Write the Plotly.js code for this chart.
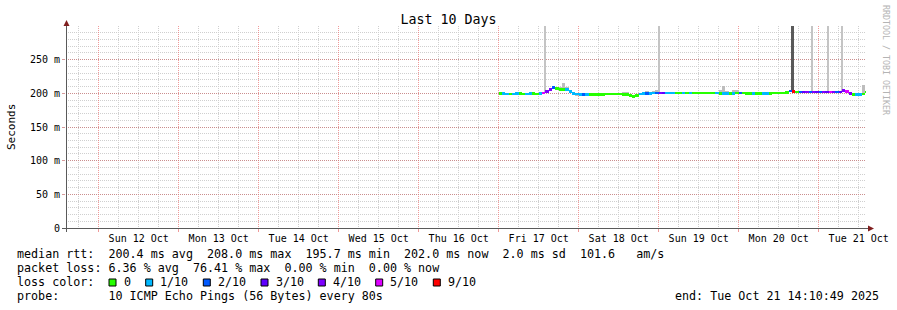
<!DOCTYPE html>
<html><head><meta charset="utf-8">
<script src="https://cdn.plot.ly/plotly-3.0.1.min.js"></script>
<style>html,body{margin:0;padding:0;background:#fff}</style>
</head><body><div id="chart" style="width:897px;height:310px"></div>
<script>
// ---------- data (hourly steps starting Fri 17 Oct 2025 00:00) ----------
const seriesStart = '2025-10-17 00:00:00';
const median = [
  199.5,199.5,199,199,199,199.5,199.5,199,199,199.5,199.5,199,199.5,
  200.5,202.5,205,208,206.5,206,206,205.5,203,199.5,199,
  198.5,198.5,198.5,198,198,198,198.5,198.5,199,199,199,199,199,198.5,198,196.5,195.7,197,199,200,200,200,200.5,200.5,
  200.5,200.5,200.5,200.5,200.5,200.5,200.5,200.5,200.5,200.5,200.5,200.5,200.5,200.5,200.5,200.5,200.5,200.5,200,200,200,200,200,200.5,
  200.5,200.5,200,200,200,200,200,200,200,200,200.5,200.5,200.5,200.5,201,203.5,203,202,202,202,202,202,202,202,
  202,202,202,202,202,202,202,204,202.5,200,198.5,198,198,199,202
];
const lossOf10 = [
  0,1,1,0,1,1,0,0,1,1,0,0,1,
  5,4,4,2,0,0,0,1,1,1,1,
  1,2,1,0,0,0,0,0,0,0,0,0,0,0,0,0,0,0,1,1,2,1,1,2,
  4,3,1,1,1,0,0,1,0,1,0,0,0,0,0,0,0,1,0,1,1,0,1,0,
  2,0,0,0,1,0,0,1,1,0,0,0,0,0,0,2,9,0,2,3,4,2,4,3,
  2,4,3,5,4,2,3,4,5,4,0,1,1,0,0
];
const smokeLo = [
  198,198,197.5,197.5,197.5,198,198,197.5,197.5,198,198,197.5,198,
  199,201,203.5,206.5,205,204.5,204.5,204,201.5,197,196,
  197,197,197,196.5,196.5,196.5,197,197,197.5,197.5,197.5,197.5,197.5,197,196.5,195,194.2,195.5,197.5,198.5,198.5,198.5,199,199,
  199,199,199,199,199,199,199,199,199,199,199,199,199,199,199,199,199,199,198.5,198.5,198.5,198.5,198.5,199,
  199,199,198.5,198.5,198.5,198.5,198.5,198.5,198.5,198.5,199,199,199,199,199.5,202,201.5,200.5,200.5,200.5,200.5,200.5,200.5,200.5,
  200.5,200.5,200.5,200.5,200.5,200.5,200.5,202.5,201,198.5,197,196.5,196.5,197.5,200.5
];
const smokeHi = [
  201,201,200.5,200.5,200.5,201,201,200.5,200.5,201,201,200.5,201,
  202,204,207,209,208,210,216,209,205,201,200.5,
  200,200,200,199.5,199.5,199.5,200,200,200.5,200.5,200.5,200.5,200.5,201.5,201.5,198,197.5,198.5,200.5,201.5,203,201.5,204,205,
  202,202,202,202,202,202,202,202,202,202,202,202,202,202,202,202,202,202,205,211.5,204,201.5,205,205,
  202,202,201.5,201.5,201.5,201.5,201.5,201.5,201.5,201.5,202,202,202,202,202.5,205,204.5,203.5,203.5,203.5,203.5,203.5,203.5,203.5,
  203.5,203.5,203.5,203.5,203.5,203.5,203.5,206,204,201.5,200,199.5,199.5,213,203.5
];
// smoke spikes reaching beyond the top of the graph
const spikeTimes = ['2025-10-17 13:48','2025-10-19 00:00','2025-10-20 16:03','2025-10-20 21:54','2025-10-21 02:42','2025-10-21 07:00'];
const spikeFrom  = [202, 200.5, 203, 202, 202, 204];
const spikeTo    = [300, 300, 300, 300, 300, 300];
const spikePings = [1, 1, 4, 1, 1, 1];

const lossSteps  = [0, 1, 2, 3, 4, 5, 9];
const lossLabels = ['0', '1/10', '2/10', '3/10', '4/10', '5/10', '9/10'];
const yTickVals  = [0, 50, 100, 150, 200, 250];
const yTickText  = ['0', '50 m', '100 m', '150 m', '200 m', '250 m'];
const rttLine    = 'median rtt:  200.4 ms avg  208.0 ms max  195.7 ms min  202.0 ms now  2.0 ms sd  101.6   am/s';
const lossLine   = 'packet loss: 6.36 % avg  76.41 % max  0.00 % min  0.00 % now';
const probeLine  = 'probe:       10 ICMP Echo Pings (56 Bytes) every 80s';
const endLine    = 'end: Tue Oct 21 14:10:49 2025';

// ---------- styles ----------
const lossColors = ['#26ff00', '#00b8ff', '#0059ff', '#5e00ff', '#7e00ff', '#dd00ff', '#ff0000'];
const HOUR = 3600000;
const MONO = 'DejaVu Sans Mono';
function lossColor(l) { let c = lossColors[0]; lossSteps.forEach((s, k) => { if (l >= s) c = lossColors[k]; }); return c; }
const t0 = new Date(seriesStart.replace(' ', 'T') + 'Z').getTime();
const times = median.map((_, i) => new Date(t0 + (i + 0.5) * HOUR).toISOString().slice(0, 19).replace('T', ' '));

const lineHalf = 2.2; // half thickness of the median stroke in ms

const traces = [
  { type: 'bar', x: times, base: smokeLo, y: smokeHi.map((h, i) => h - smokeLo[i]), width: HOUR,
    marker: { color: '#bdbdbd', line: { width: 0 } }, hoverinfo: 'skip' },
  { type: 'bar', x: spikeTimes, base: spikeFrom, y: spikeTo.map((t, i) => t - spikeFrom[i]),
    width: spikePings.map(p => p > 1 ? 0.8 * HOUR : 0.55 * HOUR),
    marker: { color: spikePings.map(p => p > 1 ? '#5a5a5a' : '#c4c4c4'), line: { width: 0 } }, hoverinfo: 'skip' },
  { type: 'bar', x: times, base: median.map(m => m - lineHalf), y: median.map(() => 2 * lineHalf), width: HOUR,
    marker: { color: lossOf10.map(lossColor), line: { width: 0 } }, hoverinfo: 'skip' }
];

const L = 66, T = 26, W = 800, H = 202;
const px = x => (x - L) / W, py = y => (T + H - y) / H;
const txt = (x, y, text, opts) => Object.assign({ xref: 'paper', yref: 'paper', x: px(x), y: py(y), text, showarrow: false,
  xanchor: 'left', yanchor: 'middle', font: { family: MONO, size: 11.7, color: '#000' } }, opts || {});

const annotations = [
  txt(14.7, 254, rttLine),
  txt(14.7, 268, lossLine),
  txt(14.7, 282, 'loss color:'),
  txt(14.7, 296, probeLine),
  txt(881, 296, endLine, { xanchor: 'right' }),
  txt(11, 127, 'Seconds', { xanchor: 'center', textangle: -90, font: { family: MONO, size: 11, color: '#000' } }),
  txt(886, 60, 'RRDTOOL / TOBI OETIKER', { xanchor: 'center', textangle: 90, font: { family: MONO, size: 8.3, color: '#b4b4b4' } })
];
const boxX = [109, 145.7, 203.3, 261, 318.3, 375.7, 433.3];
const shapes = [];
lossLabels.forEach((lab, k) => {
  annotations.push(txt(boxX[k] + 12.5, 282, lab));
  shapes.push({ type: 'rect', xref: 'paper', yref: 'paper', x0: px(boxX[k]), x1: px(boxX[k] + 7), y0: py(286), y1: py(279),
    fillcolor: lossColors[k], line: { color: '#000', width: 1 } });
});
const P = (x, y) => px(x) + ',' + py(y);
shapes.push(
  { type: 'line', xref: 'paper', yref: 'paper', x0: px(66.5), x1: px(66.5), y0: py(232), y1: py(22), line: { color: '#5a5a5a', width: 1 } },
  { type: 'line', xref: 'paper', yref: 'paper', x0: px(62), x1: px(869), y0: py(228.5), y1: py(228.5), line: { color: '#5a5a5a', width: 1 } },
  { type: 'path', xref: 'paper', yref: 'paper', path: 'M' + P(63.5, 26) + 'L' + P(69.5, 26) + 'L' + P(66.5, 20) + 'Z', fillcolor: '#801f1f', line: { width: 0 } },
  { type: 'path', xref: 'paper', yref: 'paper', path: 'M' + P(868, 225.5) + 'L' + P(868, 231.5) + 'L' + P(874, 228.5) + 'Z', fillcolor: '#801f1f', line: { width: 0 } }
);

const layout = {
  width: 897, height: 310, margin: { l: L, r: 31, t: T, b: 82 },
  paper_bgcolor: '#fff', plot_bgcolor: '#fff', showlegend: false,
  barmode: 'overlay', bargap: 0,
  title: { text: 'Last 10 Days', xref: 'container', x: 0.5, xanchor: 'center', yref: 'container', y: 1 - 19.5 / 310, yanchor: 'middle',
    font: { family: MONO, size: 13.3, color: '#000' } },
  xaxis: { type: 'date', range: ['2025-10-11 14:10:49', '2025-10-21 14:10:49'],
    tick0: '2025-10-12 00:00:00', dtick: 86400000, tickformat: '%a %d %b', ticklabelmode: 'period',
    showgrid: true, gridcolor: 'rgba(235,120,120,0.75)', griddash: '1px,1px', gridwidth: 1,
    ticks: 'outside', ticklen: 3, tickcolor: 'rgba(235,120,120,0.75)', ticklabelstandoff: -2,
    minor: { tick0: '2025-10-12 00:00:00', dtick: 21600000, showgrid: true, gridcolor: '#cfcfcf', griddash: '1px,1px', gridwidth: 1, ticks: '' },
    tickfont: { family: MONO, size: 10, color: '#000' }, showline: false, zeroline: false, fixedrange: true },
  yaxis: { range: [0, 300], tickmode: 'array', tickvals: yTickVals, ticktext: yTickText,
    showgrid: true, gridcolor: 'rgba(200,120,120,0.75)', griddash: '1px,1px', gridwidth: 1,
    ticks: 'outside', ticklen: 3, tickcolor: 'rgba(200,120,120,0.75)',
    minor: { tick0: 0, dtick: 10, showgrid: true, gridcolor: '#cfcfcf', griddash: '1px,1px', gridwidth: 1, ticks: '' },
    tickfont: { family: MONO, size: 10, color: '#000' }, showline: false, zeroline: false, fixedrange: true },
  annotations, shapes
};
Plotly.newPlot('chart', traces, layout, { staticPlot: true, displayModeBar: false });
</script></body></html>
